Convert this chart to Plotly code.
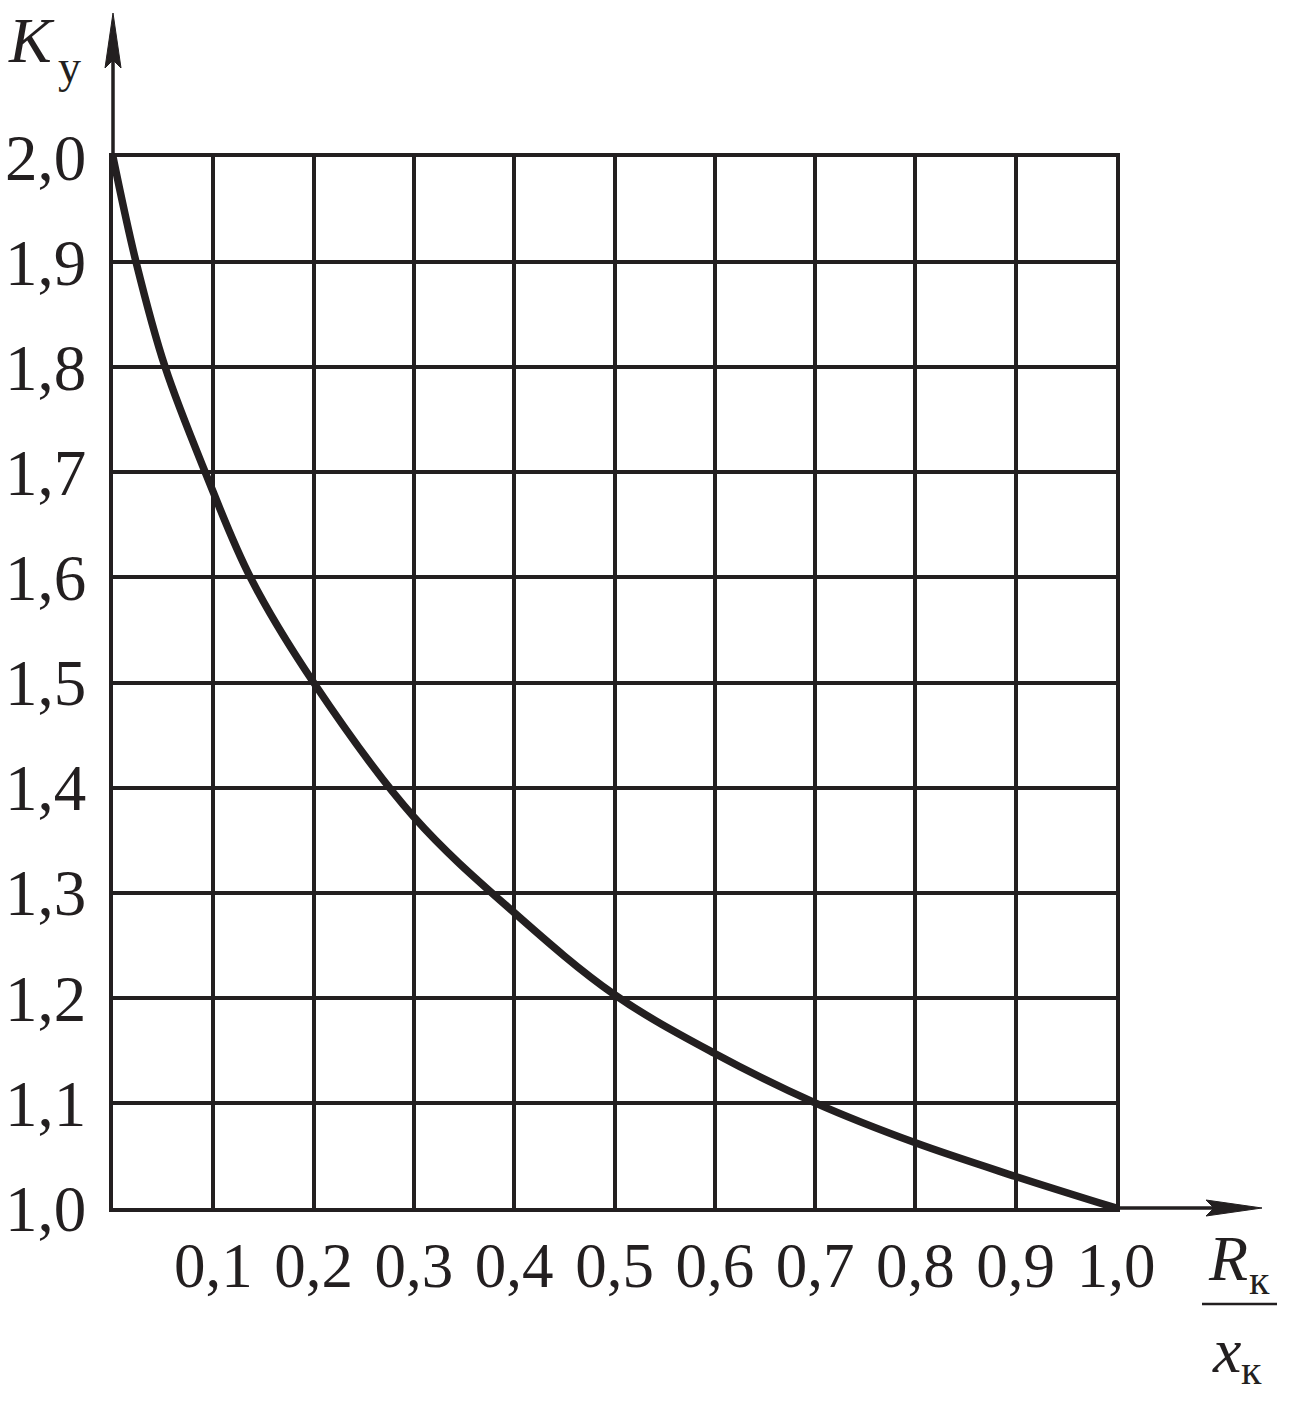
import plotly.graph_objects as go

# Data
ratio_r_x = [0.0, 0.023, 0.052, 0.092, 0.137, 0.2, 0.3, 0.4, 0.5, 0.6, 0.7, 0.8, 0.9, 1.0]
k_y = [2.0, 1.9, 1.8, 1.7, 1.6, 1.5, 1.372, 1.281, 1.203, 1.147, 1.1, 1.062, 1.03, 1.0]

x_tick_vals = [0.1, 0.2, 0.3, 0.4, 0.5, 0.6, 0.7, 0.8, 0.9, 1.0]
x_tick_text = ["0,1", "0,2", "0,3", "0,4", "0,5", "0,6", "0,7", "0,8", "0,9", "1,0"]
y_tick_vals = [1.0, 1.1, 1.2, 1.3, 1.4, 1.5, 1.6, 1.7, 1.8, 1.9, 2.0]
y_tick_text = ["1,0", "1,1", "1,2", "1,3", "1,4", "1,5", "1,6", "1,7", "1,8", "1,9", "2,0"]

INK = "#231f20"
FONT = "Liberation Serif"

W, H = 1289, 1402
L, R, T, B = 113, 173, 157, 194
pw, ph = W - L - R, H - T - B


def px(x):
    return (x - L) / pw


def py(y):
    return (H - B - y) / ph


fig = go.Figure()
fig.add_trace(go.Scatter(x=ratio_r_x, y=k_y, mode="lines",
                         line=dict(color=INK, width=7.5, shape="spline", smoothing=1.0),
                         showlegend=False, hoverinfo="skip"))

axis_common = dict(showgrid=True, gridcolor=INK, gridwidth=3.5, zeroline=False,
                   showline=True, linecolor=INK, linewidth=3.5, mirror=True,
                   automargin=False, ticks="")
fig.update_xaxes(range=[0, 1], tickvals=x_tick_vals, ticktext=x_tick_text,
                 ticklabelstandoff=0, tickfont=dict(family=FONT, size=63, color=INK),
                 **axis_common)
fig.update_yaxes(range=[1, 2], tickvals=y_tick_vals, ticktext=y_tick_text,
                 ticklabelstandoff=10, tickfont=dict(family=FONT, size=65, color=INK),
                 **axis_common)

shapes = []
# y-axis extension + arrowhead
shapes.append(dict(type="line", xref="paper", yref="paper", x0=px(113), x1=px(113),
                   y0=py(157), y1=py(55), line=dict(color=INK, width=3.5)))
shapes.append(dict(type="path", xref="paper", yref="paper",
                   path=f"M {px(113)} {py(13)} L {px(105)} {py(68)} L {px(113)} {py(60)} L {px(121)} {py(68)} Z",
                   fillcolor=INK, line=dict(color=INK, width=1)))
# x-axis extension + arrowhead
shapes.append(dict(type="line", xref="paper", yref="paper", x0=px(1116), x1=px(1215),
                   y0=py(1208), y1=py(1208), line=dict(color=INK, width=3.5)))
shapes.append(dict(type="path", xref="paper", yref="paper",
                   path=f"M {px(1262)} {py(1208)} L {px(1206)} {py(1200)} L {px(1214)} {py(1208)} L {px(1206)} {py(1216)} Z",
                   fillcolor=INK, line=dict(color=INK, width=1)))
# fraction bar for R_k / x_k
shapes.append(dict(type="line", xref="paper", yref="paper", x0=px(1202), x1=px(1277),
                   y0=py(1304), y1=py(1304), line=dict(color=INK, width=2.5)))
fig.update_layout(shapes=shapes)

ann = [
    dict(text="<i>K</i>", x=px(31), y=py(40), font=dict(size=64)),
    dict(text="у", x=px(69), y=py(66), font=dict(size=46)),
    dict(text="<i>R</i>", x=px(1228), y=py(1258), font=dict(size=64)),
    dict(text="к", x=px(1259), y=py(1280), font=dict(size=42)),
    dict(text="<i>x</i>", x=px(1226), y=py(1350), font=dict(size=64)),
    dict(text="к", x=px(1251), y=py(1370), font=dict(size=42)),
]
for a in ann:
    a.update(xref="paper", yref="paper", showarrow=False, xanchor="center", yanchor="middle")
    a["font"].update(family=FONT, color=INK)
fig.update_layout(annotations=ann)

fig.update_layout(width=W, height=H, margin=dict(l=L, r=R, t=T, b=B, autoexpand=False),
                  paper_bgcolor="white", plot_bgcolor="white")

fig.write_html("out.html", config={"displayModeBar": False},
               post_script="document.body.style.margin='0px';")
